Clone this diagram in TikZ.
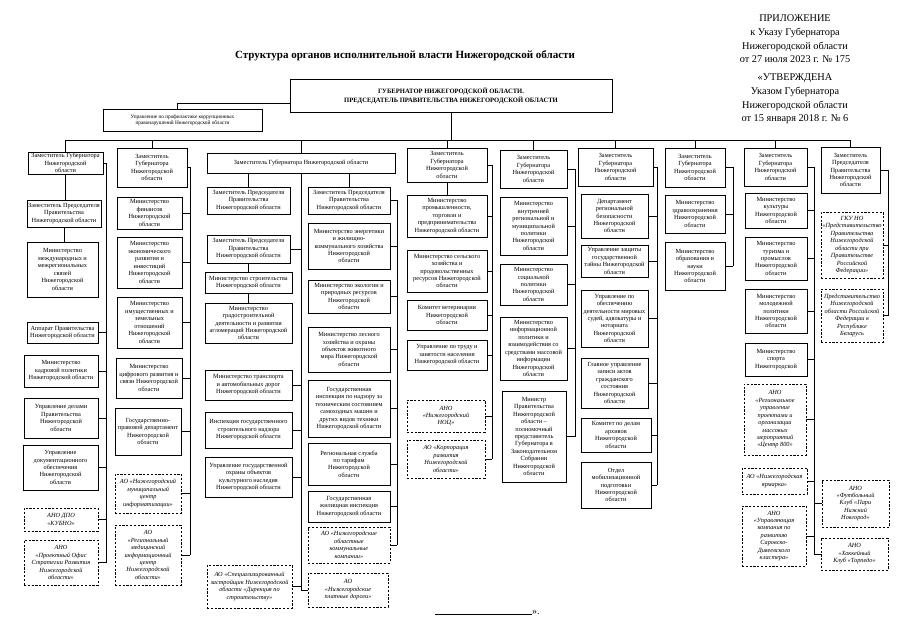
\documentclass[tikz,border=0pt]{standalone}
\usepackage{fontspec}
\setmainfont{Liberation Serif}
\tikzset{
  orgbox/.style={draw, line width=0.9pt, align=center, inner sep=0.5pt, font=\fontsize{6.3}{7.45}\selectfont},
  orgdash/.style={orgbox, line width=0.8pt, dash pattern=on 2.2pt off 1.6pt, font=\fontsize{6.3}{7.45}\selectfont\itshape},
  con/.style={line width=0.85pt},
}
\newcommand\obox[7][orgbox]{%
  \pgfmathsetmacro\obw{#5-#3}%
  \pgfmathsetmacro\obh{#6-#4}%
  \pgfmathsetmacro\obx{(#3+#5)/2}%
  \pgfmathsetmacro\oby{(#4+#6)/2}%
  \node[#1,minimum width=\obw pt,minimum height=\obh pt] (#2) at (\obx,\oby) {#7};%
}
\begin{document}
\begin{tikzpicture}[x=1pt,y=-1pt]
\fill[white] (0,0) rectangle (905,640);
\useasboundingbox (0,0) rectangle (905,640);

% header texts
\node[font=\fontsize{11}{13}\selectfont\bfseries] (title) at (405,56) {Структура органов исполнительной власти Нижегородской области};
\node[align=center, font=\fontsize{10.3}{13.6}\selectfont] (app1) at (795,39) {ПРИЛОЖЕНИЕ\\к Указу Губернатора\\Нижегородской области\\от 27 июля 2023 г. № 175};
\node[align=center, font=\fontsize{10.3}{13.6}\selectfont] (app2) at (795,99) {«УТВЕРЖДЕНА\\Указом Губернатора\\Нижегородской области\\от 15 января 2018 г. № 6};

% governor
\obox[orgbox, font=\fontsize{6.6}{9}\selectfont\bfseries]{gov}{290}{79}{612}{112}{ГУБЕРНАТОР НИЖЕГОРОДСКОЙ ОБЛАСТИ.\\ПРЕДСЕДАТЕЛЬ ПРАВИТЕЛЬСТВА НИЖЕГОРОДСКОЙ ОБЛАСТИ}
\obox[orgbox, font=\fontsize{5.3}{6.4}\selectfont]{corr}{103}{109}{262}{131}{Управление по профилактике коррупционных\\правонарушений Нижегородской области}
\coordinate (cj) at (177,103);
\draw[con] (gov.west |- cj) -- (cj) -- (cj |- corr.north);

% column 1
\obox{c1h}{28}{152}{103}{174}{Заместитель Губернатора\\Нижегородской\\области}
\obox{c1a}{27}{200}{101}{227}{Заместитель Председателя\\Правительства\\Нижегородской области}
\obox{c1b}{27}{242}{98}{297}{Министерство\\международных и\\межрегиональных\\связей\\Нижегородской\\области}
\obox{c1c}{27}{322}{98}{343}{Аппарат Правительства\\Нижегородской области}
\obox{c1d}{24}{355}{98}{387}{Министерство\\кадровой политики\\Нижегородской области}
\obox{c1e}{24}{398}{98}{438}{Управление делами\\Правительства\\Нижегородской\\области}
\obox{c1f}{23}{445}{98}{490}{Управление\\документационного\\обеспечения\\Нижегородской\\области}
\obox[orgdash]{c1g}{24}{508}{98}{531}{АНО ДПО\\«КУБНО»}
\obox[orgdash]{c1i}{24}{540}{98}{585}{АНО\\«Проектный Офис\\Стратегии Развития\\Нижегородской\\области»}

% column 2
\obox{c2h}{117}{148}{187}{187}{Заместитель\\Губернатора\\Нижегородской\\области}
\obox{c2a}{117}{197}{182}{229}{Министерство\\финансов\\Нижегородской\\области}
\obox{c2b}{117}{237}{182}{288}{Министерство\\экономического\\развития и\\инвестиций\\Нижегородской\\области}
\obox{c2c}{117}{297}{182}{348}{Министерство\\имущественных и\\земельных\\отношений\\Нижегородской\\области}
\obox{c2d}{116}{358}{182}{398}{Министерство\\цифрового развития и\\связи Нижегородской\\области}
\obox{c2e}{115}{408}{181}{455}{Государственно-\\правовой департамент\\Нижегородской\\области}
\obox[orgdash]{c2f}{115}{474}{181}{513}{АО «Нижегородский\\муниципальный\\центр\\информатизации»}
\obox[orgdash]{c2g}{115}{525}{181}{585}{АО\\«Региональный\\медицинский\\информационный\\центр\\Нижегородской\\области»}

% column 3
\obox{c3h}{207}{153}{395}{173}{Заместитель Губернатора Нижегородской области}
\obox{c3a}{207}{187}{290}{214}{Заместитель Председателя\\Правительства\\Нижегородской области}
\obox{c3b}{308}{187}{390}{214}{Заместитель Председателя\\Правительства\\Нижегородской области}
\obox{c3c}{207}{235}{290}{263}{Заместитель Председателя\\Правительства\\Нижегородской области}
\obox{c3d}{205}{272}{292}{293}{Министерство строительства\\Нижегородской области}
\obox{c3e}{205}{303}{292}{343}{Министерство\\градостроительной\\деятельности и развития\\агломераций Нижегородской\\области}
\obox{c3f}{205}{370}{292}{400}{Министерство транспорта\\и автомобильных дорог\\Нижегородской области}
\obox{c3g}{205}{412}{292}{448}{Инспекция государственного\\строительного надзора\\Нижегородской области}
\obox{c3k1}{205}{457}{292}{497}{Управление государственной\\охраны объектов\\культурного наследия\\Нижегородской области}
\obox[orgdash]{c3i}{207}{565}{292}{608}{АО «Специализированный\\застройщик Нижегородской\\области «Дирекция по\\строительству»}
\obox{c3j}{308}{223}{390}{269}{Министерство энергетики\\и жилищно-\\коммунального хозяйства\\Нижегородской\\области}
\obox{c3k}{308}{280}{390}{313}{Министерство экологии и\\природных ресурсов\\Нижегородской\\области}
\obox{c3l}{308}{327}{390}{372}{Министерство лесного\\хозяйства и охраны\\объектов животного\\мира Нижегородской\\области}
\obox{c3m}{308}{380}{390}{437}{Государственная\\инспекция по надзору за\\техническим состоянием\\самоходных машин и\\других видов техники\\Нижегородской области}
\obox{c3n}{308}{443}{390}{485}{Региональная служба\\по тарифам\\Нижегородской\\области}
\obox{c3o}{308}{491}{390}{522}{Государственная\\жилищная инспекция\\Нижегородской области}
\obox[orgdash]{c3p}{308}{527}{390}{563}{АО «Нижегородские\\областные\\коммунальные\\компании»}
\obox[orgdash]{c3q}{308}{573}{388}{607}{АО\\«Нижегородские\\платные дороги»}

% column 4
\obox{c4h}{407}{148}{487}{182}{Заместитель\\Губернатора\\Нижегородской\\области}
\obox{c4a}{407}{195}{487}{237}{Министерство\\промышленности,\\торговли и\\предпринимательства\\Нижегородской области}
\obox{c4b}{407}{250}{487}{292}{Министерство сельского\\хозяйства и\\продовольственных\\ресурсов Нижегородской\\области}
\obox{c4c}{407}{300}{487}{330}{Комитет ветеринарии\\Нижегородской\\области}
\obox{c4d}{407}{340}{487}{370}{Управление по труду и\\занятости населения\\Нижегородской области}
\obox[orgdash]{c4e}{407}{400}{485}{432}{АНО\\«Нижегородский\\НОЦ»}
\obox[orgdash]{c4f}{407}{440}{485}{478}{АО «Корпорация\\развития\\Нижегородской\\области»}

% column 5
\obox{c5h}{500}{150}{567}{188}{Заместитель\\Губернатора\\Нижегородской\\области}
\obox{c5a}{500}{197}{567}{255}{Министерство\\внутренней\\региональной и\\муниципальной\\политики\\Нижегородской\\области}
\obox{c5b}{500}{264}{567}{305}{Министерство\\социальной\\политики\\Нижегородской\\области}
\obox{c5c}{500}{317}{567}{380}{Министерство\\информационной\\политики и\\взаимодействия со\\средствами массовой\\информации\\Нижегородской\\области}
\obox{c5d}{502}{391}{566}{482}{Министр\\Правительства\\Нижегородской\\области –\\полномочный\\представитель\\Губернатора в\\Законодательном\\Собрании\\Нижегородской\\области}

% column 6
\obox{c6h}{578}{148}{653}{186}{Заместитель\\Губернатора\\Нижегородской\\области}
\obox{c6a}{581}{194}{648}{238}{Департамент\\региональной\\безопасности\\Нижегородской\\области}
\obox{c6b}{581}{245}{648}{277}{Управление защиты\\государственной\\тайны Нижегородской\\области}
\obox{c6c}{581}{290}{648}{347}{Управление по\\обеспечению\\деятельности мировых\\судей, адвокатуры и\\нотариата\\Нижегородской\\области}
\obox{c6d}{581}{358}{648}{408}{Главное управление\\записи актов\\гражданского\\состояния\\Нижегородской\\области}
\obox{c6e}{581}{418}{651}{452}{Комитет по делам\\архивов\\Нижегородской\\области}
\obox{c6f}{581}{462}{651}{508}{Отдел\\мобилизационной\\подготовки\\Нижегородской\\области}

% column 7
\obox{c7h}{665}{148}{725}{187}{Заместитель\\Губернатора\\Нижегородской\\области}
\obox{c7a}{665}{195}{725}{233}{Министерство\\здравоохранения\\Нижегородской\\области}
\obox{c7b}{665}{242}{725}{290}{Министерство\\образования и\\науки\\Нижегородской\\области}

% column 8
\obox{c8h}{744}{148}{807}{186}{Заместитель\\Губернатора\\Нижегородской\\области}
\obox{c8a}{745}{193}{807}{228}{Министерство\\культуры\\Нижегородской\\области}
\obox{c8b}{745}{237}{807}{280}{Министерство\\туризма и\\промыслов\\Нижегородской\\области}
\obox{c8c}{745}{289}{807}{333}{Министерство\\молодежной\\политики\\Нижегородской\\области}
\obox{c8d}{745}{343}{807}{376}{Министерство\\спорта\\Нижегородской}
\obox[orgdash]{c8e}{744}{384}{806}{455}{АНО\\«Региональное\\управление\\проектами и\\организации\\массовых\\мероприятий\\«Центр 800»}
\obox[orgdash]{c8f}{742}{468}{807}{494}{АО «Нижегородская\\ярмарка»}
\obox[orgdash]{c8g}{742}{506}{806}{566}{АНО\\«Управляющая\\компания по\\развитию\\Саровско-\\Дивеевского\\кластера»}
\obox[orgdash]{c8r}{822}{480}{889}{527}{АНО\\«Футбольный\\Клуб «Пари\\Нижний\\Новгород»}
\obox[orgdash]{c8s}{821}{538}{888}{570}{АНО\\«Хоккейный\\Клуб «Торпедо»}

% column 9
\obox{c9h}{821}{147}{880}{193}{Заместитель\\Председателя\\Правительства\\Нижегородской\\области}
\obox[orgdash]{c9a}{821}{212}{883}{278}{ГКУ НО\\«Представительство\\Правительства\\Нижегородской\\области при\\Правительстве\\Российской\\Федерации»}
\obox[orgdash]{c9b}{821}{289}{883}{342}{Представительство\\Нижегородской\\области Российской\\Федерации в\\Республике\\Беларусь}

% bus
\coordinate (bus) at (0,140);
\draw[con] (gov.south) -- (gov.south |- bus);
\draw[con] (c1h.north |- bus) -- (c9h.north |- bus);
\foreach \n in {c1h,c2h,c3h,c4h,c5h,c6h,c7h,c8h,c9h}
  \draw[con] (\n.north) -- (\n.north |- bus);

% spines
\coordinate (s1) at (106,0);
\coordinate (s2) at (190,0);
\coordinate (s3r) at (397,0);
\coordinate (s4) at (492,0);
\coordinate (s5) at (575,0);
\coordinate (s6) at (657,0);
\coordinate (s7) at (733,0);
\coordinate (s8) at (814,0);
\coordinate (s9) at (888,0);

% col 1
\draw[con] (c1h.south) -- (c1h.south |- c1a.north);
\draw[con] (c1a.south) -- (c1a.south |- c1b.north);
\draw[con] (c1h.east) -- (c1h.east -| s1) -- (c1i.east -| s1);
\foreach \n in {c1c,c1d,c1e,c1f,c1g,c1i} \draw[con] (\n.east) -- (\n.east -| s1);

% col 2
\draw[con] (c2h.east) -- (c2h.east -| s2) -- (c2g.east -| s2);
\foreach \n in {c2a,c2b,c2c,c2d,c2e,c2f,c2g} \draw[con] (\n.east) -- (\n.east -| s2);

% col 3
\draw[con] (c3a.north) -- (c3a.north |- c3h.south);
\draw[con] (c3b.north) -- (c3b.north |- c3h.south);
\draw[con] (c3h.south) -- (c3h.south |- c3q.west);
\draw[con] (c3c.south) -- (c3c.south |- c3d.north);
\draw[con] (c3d.south) -- (c3d.south |- c3e.north);
\foreach \n in {c3c,c3f,c3g,c3k1,c3i} \draw[con] (\n.east) -- (\n.east -| c3h.south);
\draw[con] (c3q.west) -- (c3q.west -| c3h.south);
\draw[con] (c3b.east) -- (c3b.east -| s3r) -- (c3p.east -| s3r);
\foreach \n in {c3j,c3k,c3l,c3m,c3n,c3o,c3p} \draw[con] (\n.east) -- (\n.east -| s3r);

% col 4
\draw[con] (c4h.south) -- (c4h.south |- c4a.north);
\draw[con] (c4h.east) -- (c4h.east -| s4) -- (c4f.east -| s4);
\foreach \n in {c4a,c4b,c4c,c4d,c4e,c4f} \draw[con] (\n.east) -- (\n.east -| s4);

% col 5
\draw[con] (c5h.east) -- (c5h.east -| s5) -- (c5d.east -| s5);
\foreach \n in {c5a,c5b,c5c,c5d} \draw[con] (\n.east) -- (\n.east -| s5);

% col 6
\draw[con] (c6h.east) -- (c6h.east -| s6) -- (c6f.east -| s6);
\foreach \n in {c6a,c6b,c6c,c6d,c6e,c6f} \draw[con] (\n.east) -- (\n.east -| s6);

% col 7
\draw[con] (c7h.east) -- (c7h.east -| s7) -- (c7b.east -| s7);
\foreach \n in {c7a,c7b} \draw[con] (\n.east) -- (\n.east -| s7);

% col 8
\draw[con] (c8h.east) -- (c8h.east -| s8) -- (c8s.west -| s8);
\foreach \n in {c8a,c8b,c8c,c8d,c8e,c8f,c8g} \draw[con] (\n.east) -- (\n.east -| s8);
\foreach \n in {c8r,c8s} \draw[con] (\n.west) -- (\n.west -| s8);

% col 9
\draw[con] (c9h.east) -- (c9h.east -| s9) -- (c9b.east -| s9);
\foreach \n in {c9a,c9b} \draw[con] (\n.east) -- (\n.east -| s9);

% closing mark
\node[anchor=base west, inner sep=0pt, font=\fontsize{10}{12}\selectfont] (endmark) at (435,614) {\rule{97pt}{0.5pt}».};
\end{tikzpicture}
\end{document}
